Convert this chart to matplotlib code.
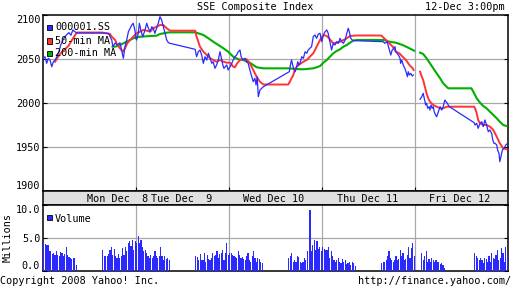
import numpy as np
import matplotlib.pyplot as plt
from matplotlib.patches import Rectangle

plt.rcParams['font.family'] = 'DejaVu Sans Mono'
plt.rcParams['font.size'] = 7.3

# x axis = "chart minutes": every day spans 330 min (9:30-15:00, lunch kept in)
day_labels = ['Mon Dec  8', 'Tue Dec  9', 'Wed Dec 10', 'Thu Dec 11', 'Fri Dec 12']

# 000001.SS price (nan = overnight gap Thu -> Fri)
price_t = [1, 7, 13, 19, 25, 31, 37, 43, 50, 56, 63, 70, 77, 85, 92, 99, 106, 113, 120,
           210, 220, 232, 244, 248, 256, 263, 273, 279, 285, 291, 297, 303, 309, 315, 320, 326, 330,
           332, 338, 342, 347, 354, 362, 368, 374, 380, 386, 391, 397, 403, 409, 415, 421, 427, 433, 439, 445, 451,
           540, 545, 551, 557, 563, 569, 575, 581, 587, 593, 599, 604, 610, 616, 622, 628, 632, 638, 642, 652, 657,
           664, 670, 675, 681, 687, 693, 699, 703, 709, 717, 723, 728, 734, 741, 746, 752, 756, 760, 764, 770, 776, 782,
           874, 879, 882, 886, 891, 895, 900, 904, 908, 912, 918, 924, 930, 936, 941, 947, 953, 959, 965, 971, 977, 983, 989,
           995, 1001, 1007, 1012, 1018, 1024, 1030, 1036, 1042, 1048, 1054, 1060, 1066, 1072, 1078, 1083, 1087, 1092, 1097, 1107, 1110,
           1200, 1207, 1213, 1221, 1229, 1234, 1239, 1245, 1249, 1252, 1261, 1267, 1269, 1273, 1278, 1284, 1288, 1293, 1296, 1300, 1305, 1310, 1314,
           1325,
           1338, 1344, 1349, 1353, 1358, 1361, 1365, 1370, 1373, 1377, 1381, 1385, 1388, 1393, 1397, 1403, 1409, 1415, 1420, 1426, 1430, 1435, 1438, 1442,
           1530, 1533, 1539, 1544, 1551, 1557, 1562, 1568, 1574, 1580, 1586, 1592, 1596, 1600, 1604, 1610, 1613, 1618, 1621, 1626, 1630, 1636, 1642, 1646]
price = [2050.8, 2052.6, 2045.1, 2050.8, 2048.9, 2041.2, 2046.9, 2048.9, 2053, 2058, 2066, 2071, 2075, 2078, 2080, 2077, 2083, 2081, 2079.5,
         2079.5, 2079.2, 2079.2, 2071.6, 2064, 2068.2, 2065.9, 2068.5, 2060.2, 2050.8, 2064, 2071.6, 2081, 2084.9, 2088.6, 2090.6, 2083, 2073.5,
         2071.6, 2079.2, 2090.6, 2083, 2075.3, 2083, 2090.6, 2084.9, 2081, 2086.7, 2084.9, 2079.2, 2084.9, 2090.6, 2098.1, 2094.3, 2086.7, 2079.2, 2071.6, 2068.5, 2067.8,
         2061, 2052.6, 2058.3, 2060.2, 2054.5, 2045.1, 2052.6, 2048.9, 2056.5, 2050.8, 2045.1, 2046.9, 2039.4, 2043.2, 2048.9, 2058.3, 2052.6, 2043.2, 2039.4, 2043.2, 2037.5,
         2041.2, 2045.1, 2048.9, 2052.6, 2054.5, 2058.3, 2060.2, 2052.6, 2048.9, 2050.8, 2046.9, 2045.1, 2037.5, 2029.9, 2024.2, 2028.1, 2020.5, 2029.9, 2007.2, 2014.8, 2016.7, 2018.5,
         2035.6, 2045.1, 2048.9, 2043.2, 2037.5, 2035.6, 2041.2, 2046.9, 2043.2, 2045.1, 2052.6, 2050.8, 2058.3, 2056.5, 2060.2, 2062.2, 2064, 2075.3, 2077.3, 2073.5, 2078.4, 2079.2, 2069.7,
         2077.3, 2081, 2083, 2079.2, 2069.7, 2060.2, 2067.8, 2065.9, 2069.7, 2067.8, 2073.5, 2069.7, 2067.8, 2071.6, 2079.2, 2084.9, 2081, 2073.5, 2071.6, 2070.8, 2070.8,
         2069.7, 2069.7, 2067.8, 2069.7, 2060.2, 2054.5, 2060.2, 2062.2, 2064, 2058.3, 2054.5, 2050.8, 2045.1, 2048.9, 2043.2, 2039.4, 2035.6, 2029.9, 2035.6, 2031.8, 2033.7, 2030.7, 2031.8,
         np.nan,
         2004.2, 2007.2, 2011, 2005.3, 1997.7, 1999.7, 1994, 1995.8, 1992, 1997.7, 1994, 1995.8, 1990.1, 1986.4, 1984.4, 1990.1, 1995.8, 1992, 1995.8, 2003.4, 2001.5, 1999.7, 1997.7, 1995.8,
         1977.6, 1975, 1976.9, 1971.2, 1976.9, 1978.7, 1973.1, 1980.7, 1975, 1967.4, 1969.3, 1965.6, 1958, 1954.2, 1954.2, 1952.3, 1946.6, 1942.8, 1933.3, 1940.9, 1946.6, 1948.5, 1952.3, 1953.4]

# 50-min moving average
ma50_t = [43, 53, 64, 75, 90, 103, 114, 121, 210, 226, 238, 244, 256, 264, 273, 283, 291, 299, 309, 320,
          332, 344, 356, 368, 380, 391, 403, 415, 427, 439, 451, 540, 545, 551, 557, 569, 581, 593, 604, 616, 628, 640, 652,
          664, 675, 681, 689, 699, 711, 723, 734, 746, 758, 770, 782, 870, 876, 882, 888, 894, 900, 912, 924, 936, 947, 959, 971, 983,
          995, 1007, 1018, 1030, 1042, 1054, 1066, 1078, 1089, 1110, 1200, 1205, 1217, 1229, 1241, 1252, 1264, 1276, 1288, 1300, 1312, 1315,
          1325,
          1338, 1344, 1349, 1355, 1361, 1367, 1373, 1385, 1397, 1409, 1420, 1432, 1444, 1530, 1533, 1539, 1544, 1551, 1562, 1574, 1586, 1598, 1610, 1621, 1633, 1645]
ma50 = [2046.9, 2052.3, 2056.8, 2060.2, 2064.8, 2071.6, 2077.3, 2080.1, 2080.1, 2079.2, 2078.4, 2075.3, 2071.6, 2065.9, 2062.2, 2058.3, 2062.2, 2067.8, 2071.6, 2075.3,
        2079.2, 2081, 2083, 2082.2, 2081, 2084.9, 2086.7, 2088.6, 2088.6, 2084.9, 2082.2, 2082.2, 2075.3, 2069.7, 2064, 2058.3, 2054.5, 2050.8, 2048.9, 2046.9, 2048.9, 2046.9, 2045.8,
        2045.8, 2041.2, 2040.6, 2045.1, 2048.9, 2049.7, 2049.7, 2045.1, 2037.5, 2029.9, 2024.2, 2021, 2021, 2024.2, 2028.1, 2031.8, 2037.5, 2041.2, 2044.3, 2046.9, 2048.9, 2052.6, 2056.5, 2064, 2071.6,
        2077.3, 2076.1, 2072.4, 2067.8, 2068.5, 2069.7, 2071.6, 2073.5, 2076.1, 2076.7, 2076.7, 2075.3, 2071.6, 2067.8, 2064, 2058.3, 2056.5, 2052.6, 2048.9, 2043.2, 2039.4, 2037.5,
        np.nan,
        2035.6, 2029.9, 2026.1, 2018.5, 2011, 2005.3, 2001.5, 1997.7, 1995.8, 1994, 1994, 1995.8, 1995.8, 1995.8, 1994, 1988.3, 1980.7, 1976.9, 1975, 1975, 1973.1, 1969.3, 1961.7, 1954.2, 1948.5, 1947.4]

# 200-min moving average
ma200_t = [247, 256, 273, 285, 297, 309, 320, 344, 380, 403, 415, 439, 451, 540, 551, 569, 587, 604, 622, 640, 657,
           675, 693, 711, 723, 734, 746, 758, 782, 870, 900, 924, 959, 971, 983,
           995, 1007, 1018, 1030, 1042, 1054, 1066, 1078, 1089, 1101, 1113, 1200, 1210, 1229, 1252, 1276, 1300, 1317,
           1325,
           1338, 1349, 1361, 1373, 1385, 1397, 1409, 1420, 1432, 1438, 1520, 1530, 1539, 1551, 1562, 1574, 1586, 1598, 1610, 1621, 1633, 1645]
ma200 = [2064, 2064, 2065.9, 2067.8, 2069.7, 2071.6, 2073.5, 2075.3, 2076.1, 2076.5, 2078.4, 2079.9, 2080.3, 2080.3, 2079.2, 2077.3, 2073.5, 2069.7, 2065.9, 2062.2, 2058.3,
         2052.6, 2049.7, 2048.9, 2046.9, 2045.8, 2043.2, 2040.6, 2039.4, 2039.4, 2038.6, 2038.3, 2039.4, 2040.6, 2042,
         2045.8, 2048.9, 2052.6, 2056.5, 2059.1, 2061, 2064, 2065.9, 2068.5, 2070.8, 2071.6, 2071.6, 2071.6, 2069.7, 2068.5, 2065.9, 2062.2, 2059.4,
         np.nan,
         2057.2, 2055.7, 2050.8, 2045.1, 2039.4, 2033.7, 2028.1, 2022.4, 2018.5, 2016.7, 2016.7, 2011, 2005.3, 2000.3, 1996.6, 1994, 1990.1, 1986.4, 1982.6, 1978.7, 1975, 1973.9]

# volume (millions), 5-min bars; session start in chart minutes
vol_starts = [0, 210, 330, 540, 660, 870, 990, 1200, 1342, 1530]
vol_mon_am = [4.2, 4.1, 3.9, 4.0, 3.1, 3.0, 2.6, 2.7, 2.4, 3.0, 2.5, 2.3, 2.9, 2.8, 2.3, 2.6, 3.6, 2.4, 2.1, 1.9, 1.8, 1.9, 2.0, 0.9]
vol_mon_pm = [3.2, 2.2, 2.2, 2.2, 2.6, 3.2, 3.6, 2.4, 3.4, 2.2, 1.9, 2.6, 1.9, 2.2, 3.5, 2.4, 3.7, 3.1, 4.2, 4.6, 3.8, 4.7, 3.2, 4.5]
vol_tue_am = [4.3, 5.3, 4.3, 4.7, 3.6, 3.1, 3.2, 2.7, 2.2, 1.9, 2.4, 1.9, 2.2, 3.0, 2.2, 1.9, 2.2, 3.6, 2.2, 1.7, 2.3, 1.8, 2.0, 1.6]
vol_tue_pm = [2.3, 2.1, 1.6, 2.6, 1.7, 1.6, 2.7, 1.4, 2.5, 1.8, 1.6, 1.9, 2.7, 2.2, 2.5, 3.0, 1.9, 2.6, 2.8, 3.2, 1.7, 2.7, 4.3, 2.5]
vol_wed_am = [2.8, 2.7, 2.4, 2.2, 2.1, 1.9, 3.0, 2.4, 1.9, 2.1, 1.8, 1.7, 2.2, 2.7, 1.7, 1.4, 2.2, 3.1, 1.9, 1.4, 1.9, 1.8, 1.4, 1.2]
vol_wed_pm = [1.9, 2.2, 2.7, 1.4, 1.7, 1.3, 2.2, 2.1, 1.3, 1.2, 1.4, 1.9, 1.7, 3.0, 0.2, 9.3, 3.0, 4.0, 4.7, 3.2, 4.5, 3.3, 3.6, 3.0]
vol_thu_am = [3.7, 3.4, 3.2, 3.2, 3.6, 1.9, 3.0, 2.2, 1.7, 1.4, 1.7, 1.9, 1.4, 1.2, 1.8, 1.4, 1.7, 1.1, 1.2, 1.4, 0.9, 1.4, 1.2, 0.7]
vol_thu_pm = [1.2, 1.4, 1.4, 1.7, 2.2, 3.0, 1.9, 1.7, 1.4, 1.6, 2.2, 1.6, 1.8, 3.2, 2.2, 2.7, 1.7, 1.8, 2.5, 3.7, 1.9, 3.5, 4.2, 2.2]
vol_fri_am = [2.8, 1.7, 2.2, 3.0, 1.4, 1.8, 1.4, 1.9, 1.7, 1.3, 1.6, 1.3, 1.4, 1.1, 1.2, 0.9, 0.4]
vol_fri_pm = [2.7, 2.2, 1.9, 1.6, 1.9, 1.7, 1.2, 1.9, 1.8, 1.4, 2.2, 1.4, 2.7, 1.9, 1.8, 2.4, 3.2, 1.7, 2.0, 3.5, 2.7, 1.4, 3.7, 2.6]
vol_sessions = [vol_mon_am, vol_mon_pm, vol_tue_am, vol_tue_pm, vol_wed_am,
                vol_wed_pm, vol_thu_am, vol_thu_pm, vol_fri_am, vol_fri_pm]

W, H = 512, 288
BLUE = '#2a2aff'
RED = '#ff3333'
GREEN = '#00b000'
GRID = '#a8a8a8'


def px(x, y):
    return x / W, 1 - y / H


fig = plt.figure(figsize=(W / 100, H / 100), dpi=100)

ax = fig.add_axes([43 / W, 97 / H, 465 / W, 176 / H])
band = fig.add_axes([43 / W, 83 / H, 465 / W, 14 / H])
vax = fig.add_axes([43 / W, 17 / H, 465 / W, 66 / H])

day_edges = [330, 660, 990, 1320]

# price panel
ax.plot(ma200_t, ma200, color=GREEN, lw=1.5, zorder=3)
ax.plot(ma50_t, ma50, color=RED, lw=1.4, zorder=4)
ax.plot(price_t, price, color=BLUE, lw=0.9, zorder=5)
ax.set_xlim(0, 1650)
ax.set_ylim(1900, 2100)
ax.set_yticks([1900, 1950, 2000, 2050, 2100])
ax.set_yticklabels(['1900', '1950', '2000', '2050', '2100'])
ax.set_xticks(day_edges)
ax.set_xticklabels([])
ax.tick_params(axis='x', direction='in', length=3, width=0.8, color='black')
ax.tick_params(axis='y', direction='in', length=3, width=0.8, pad=2, right=True)
ax.tick_params(axis='y', labelsize=7.3)
for g in [1950, 2000, 2050]:
    ax.axhline(g, color=GRID, lw=0.9, zorder=1)
for d in day_edges:
    ax.axvline(d, color=GRID, lw=0.9, zorder=1)
for sp in ax.spines.values():
    sp.set_linewidth(1.1)
ylabs = ax.get_yticklabels()
ylabs[-1].set_va('top')
ylabs[0].set_va('bottom')

# date band
band.set_facecolor('#e0e0e0')
band.set_xlim(0, 1650)
band.set_ylim(0, 1)
band.set_xticks([])
band.set_yticks([])
for sp in band.spines.values():
    sp.set_linewidth(1.1)
label_pos = [266, 491, 818, 1151, 1480]
for lp, lab in zip(label_pos, day_labels):
    band.text(lp, 0.45, lab, ha='center', va='center', fontsize=7.3)

# volume panel
for st, vols in zip(vol_starts, vol_sessions):
    vt = [st + 2.5 + 5 * i for i in range(len(vols))]
    vax.bar(vt, vols, width=4.2, color=BLUE, linewidth=0, zorder=3)
vax.set_xlim(0, 1650)
vax.set_ylim(0, 10)
vax.set_yticks([0, 5, 10])
vax.set_yticklabels(['0.0', '5.0', '10.0'])
vax.set_xticks([])
vax.tick_params(axis='y', direction='in', length=3, width=0.8, pad=2, right=True, labelsize=7.3)
vax.axhline(5, color=GRID, lw=0.9, zorder=1)
for d in day_edges:
    vax.axvline(d, color=GRID, lw=0.9, zorder=1)
for sp in vax.spines.values():
    sp.set_linewidth(1.1)
vlabs = vax.get_yticklabels()
vlabs[-1].set_va('top')
vlabs[0].set_va('bottom')

# legends
legend_items = [('000001.SS', BLUE, 27), ('50-min MA', RED, 40.5), ('200-min MA', GREEN, 53)]
for lab, col, yy in legend_items:
    x0, y0 = px(46.5, yy + 3)
    fig.add_artist(Rectangle((x0, y0), 5.5 / W, 5.5 / H, transform=fig.transFigure,
                             facecolor=col, edgecolor='black', lw=0.6, zorder=10))
    fig.text(*px(55, yy), lab, ha='left', va='center', fontsize=7.3, zorder=10)
x0, y0 = px(46.5, 220)
fig.add_artist(Rectangle((x0, y0), 5.5 / W, 5.5 / H, transform=fig.transFigure,
                         facecolor=BLUE, edgecolor='black', lw=0.6, zorder=10))
fig.text(*px(55, 218.5), 'Volume', ha='left', va='center', fontsize=7.3)

# titles and footer
fig.text(*px(255.5, 7), 'SSE Composite Index', ha='center', va='center', fontsize=7.3)
fig.text(*px(505, 7), '12-Dec 3:00pm', ha='right', va='center', fontsize=7.3)
fig.text(*px(8, 238), 'Millions', rotation=90, ha='center', va='center', fontsize=7.3)
fig.text(*px(0, 281), 'Copyright 2008 Yahoo! Inc.', ha='left', va='center', fontsize=7.3)
fig.text(*px(511, 281), 'http://finance.yahoo.com/', ha='right', va='center', fontsize=7.3)

fig.savefig('out.png', dpi=100)
